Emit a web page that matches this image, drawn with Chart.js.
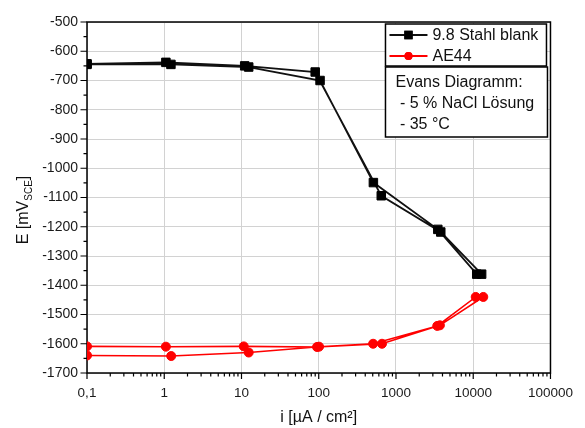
<!DOCTYPE html>
<html>
<head>
<meta charset="utf-8">
<script src="https://cdn.jsdelivr.net/npm/chart.js@4/dist/chart.umd.min.js"></script>
<style>
  html, body { margin: 0; padding: 0; background: #fff; }
  #wrap { width: 585px; height: 428px; }
</style>
</head>
<body>
<div id="wrap"><canvas id="c" width="585" height="428"></canvas></div>
<script>
// Polarisation loops: current density i [µA/cm²] and potential E [mV vs SCE]
const stahlLabel = '9.8 Stahl blank';
const stahlI = [0.1, 1.22, 12.4, 104, 510, 3480, 11100, 12850, 3800, 645, 90, 11, 1.05, 0.1];
const stahlE = [-645, -645, -654, -700, -1049, -1209, -1362, -1362, -1218, -1094, -671, -650, -638, -643];

const ae44Label = 'AE44';
const ae44I = [0.1, 1.23, 12.4, 101, 506, 3420, 10770, 13490, 3700, 659, 95, 10.7, 1.05, 0.1];
const ae44E = [-1640, -1642, -1630, -1610, -1600, -1539, -1440, -1440, -1537, -1600, -1611, -1609, -1610, -1609];

const xTickValues = [0.1, 1, 10, 100, 1000, 10000, 100000];
const xTickLabels = ['0,1', '1', '10', '100', '1000', '10000', '100000'];
const yMin = -1700, yMax = -500, yStep = 100;

const noteLines = ['Evans Diagramm:', ' - 5 % NaCl Lösung', ' - 35 °C'];
const xTitle = 'i [µA / cm²]';
const yTitleMain = 'E [mV', yTitleSub = 'SCE', yTitleEnd = ']';

const FONT = "'Liberation Sans', Arial, sans-serif";
Chart.defaults.font.family = FONT;

const toPoints = (xs, ys) => xs.map((x, i) => ({ x: x, y: ys[i] }));

// Frame, tick marks (major + minor), axis titles, legend and note boxes
const decor = {
  id: 'decor',
  beforeDatasetsDraw(chart) {
    const { ctx, chartArea: a, scales: { x, y } } = chart;
    ctx.save();
    ctx.strokeStyle = '#000';
    ctx.lineWidth = 1.2;
    ctx.beginPath();
    // x ticks, pointing outward
    for (let d = 0; d < xTickValues.length; d++) {
      const v = xTickValues[d];
      const px = x.getPixelForValue(v);
      ctx.moveTo(px, a.bottom); ctx.lineTo(px, a.bottom + 6);
      if (d < xTickValues.length - 1) {
        for (let k = 2; k <= 9; k++) {
          const mx = x.getPixelForValue(v * k);
          ctx.moveTo(mx, a.bottom); ctx.lineTo(mx, a.bottom + 3.5);
        }
      }
    }
    // y ticks, pointing outward
    for (let v = yMin; v <= yMax; v += yStep / 2) {
      const py = y.getPixelForValue(v);
      const len = (v % yStep === 0) ? 6.5 : 3.5;
      ctx.moveTo(a.left, py); ctx.lineTo(a.left - len, py);
    }
    ctx.stroke();
    ctx.lineWidth = 1.5;
    ctx.strokeRect(a.left, a.top, a.right - a.left, a.bottom - a.top);

    ctx.fillStyle = '#111';
    // x title
    ctx.font = '16px ' + FONT;
    ctx.textAlign = 'center';
    ctx.textBaseline = 'middle';
    ctx.fillText(xTitle, (a.left + a.right) / 2, 418);

    // y title with subscript
    ctx.translate(22, 210);
    ctx.rotate(-Math.PI / 2);
    ctx.textAlign = 'left';
    ctx.textBaseline = 'alphabetic';
    ctx.font = '16px ' + FONT;
    const w1 = ctx.measureText(yTitleMain).width;
    const w3 = ctx.measureText(yTitleEnd).width;
    ctx.font = '10px ' + FONT;
    const w2 = ctx.measureText(yTitleSub).width;
    let sx = -(w1 + w2 + w3) / 2;
    ctx.font = '16px ' + FONT;
    ctx.fillText(yTitleMain, sx, 6);
    ctx.font = '10px ' + FONT;
    ctx.fillText(yTitleSub, sx + w1, 10);
    ctx.font = '16px ' + FONT;
    ctx.fillText(yTitleEnd, sx + w1 + w2, 6);
    ctx.restore();
  },
  afterDraw(chart) {
    const { ctx, chartArea: a } = chart;
    ctx.save();
    // legend box
    const lx = a.right - 165, ly = a.top + 2, lw = 161, lh = 42;
    ctx.fillStyle = '#fff';
    ctx.fillRect(lx, ly, lw, lh);
    ctx.strokeStyle = '#000';
    ctx.lineWidth = 1.5;
    ctx.strokeRect(lx, ly, lw, lh);
    chart.data.datasets.forEach((ds, i) => {
      const cy = ly + 11 + i * 21;
      ctx.strokeStyle = ds.borderColor;
      ctx.lineWidth = 2;
      ctx.beginPath();
      ctx.moveTo(lx + 4, cy); ctx.lineTo(lx + 42, cy);
      ctx.stroke();
      Chart.helpers.drawPoint(ctx, {
        pointStyle: ds.pointStyle, radius: ds.pointRadius - 1.5,
        borderWidth: 1
      }, lx + 23, cy);
      ctx.fillStyle = ds.pointBackgroundColor;
      ctx.strokeStyle = ds.pointBorderColor;
      ctx.fill(); ctx.stroke();
      ctx.fillStyle = '#111';
      ctx.font = '16px ' + FONT;
      ctx.textAlign = 'left';
      ctx.textBaseline = 'middle';
      ctx.fillText(ds.label, lx + 47, cy + 1);
    });
    // note box
    const nx = lx, ny = ly + 43, nw = 162, nh = 70;
    ctx.fillStyle = '#fff';
    ctx.fillRect(nx, ny, nw, nh);
    ctx.strokeStyle = '#000';
    ctx.lineWidth = 1.5;
    ctx.strokeRect(nx, ny, nw, nh);
    ctx.fillStyle = '#111';
    ctx.font = '16px ' + FONT;
    ctx.textAlign = 'left';
    ctx.textBaseline = 'middle';
    noteLines.forEach((t, i) => ctx.fillText(t, nx + 10, ny + 16 + i * 21));
    ctx.restore();
  }
};

const gridStyle = { drawTicks: false, color: '#d2d2d2', lineWidth: 1, borderDash: [2, 2] };

new Chart(document.getElementById('c'), {
  type: 'line',
  data: {
    datasets: [
      {
        label: stahlLabel,
        data: toPoints(stahlI, stahlE),
        borderColor: '#111',
        borderWidth: 1.8,
        pointStyle: 'rect',
        pointRadius: 6,
        pointBackgroundColor: '#000',
        pointBorderColor: '#000',
        pointBorderWidth: 1,
        tension: 0
      },
      {
        label: ae44Label,
        data: toPoints(ae44I, ae44E),
        borderColor: '#ff0000',
        borderWidth: 1.6,
        pointStyle: 'circle',
        pointRadius: 4.5,
        pointBackgroundColor: '#ff0000',
        pointBorderColor: '#ff0000',
        pointBorderWidth: 1,
        tension: 0
      }
    ]
  },
  options: {
    responsive: false,
    animation: false,
    events: [],
    layout: { padding: { top: 22, right: 29, left: 0, bottom: 0 } },
    plugins: { legend: { display: false }, tooltip: { enabled: false } },
    scales: {
      x: {
        type: 'logarithmic',
        min: 0.1,
        max: 100000,
        afterBuildTicks: (s) => { s.ticks = xTickValues.map(v => ({ value: v })); },
        afterFit: (s) => { s.height = 55; },
        ticks: {
          autoSkip: false,
          maxRotation: 0,
          padding: 12,
          color: '#1a1a1a',
          font: { size: 13.5 },
          callback: (v) => {
            const i = xTickValues.findIndex(t => Math.abs(t - v) < t * 1e-6);
            return i >= 0 ? xTickLabels[i] : '';
          }
        },
        grid: gridStyle,
        border: { display: false }
      },
      y: {
        type: 'linear',
        min: yMin,
        max: yMax,
        afterFit: (s) => { s.width = 87; },
        ticks: {
          stepSize: yStep,
          padding: 9,
          color: '#1a1a1a',
          font: { size: 14 },
          callback: (v) => String(v)
        },
        grid: gridStyle,
        border: { display: false }
      }
    }
  },
  plugins: [decor]
});
</script>
</body>
</html>
